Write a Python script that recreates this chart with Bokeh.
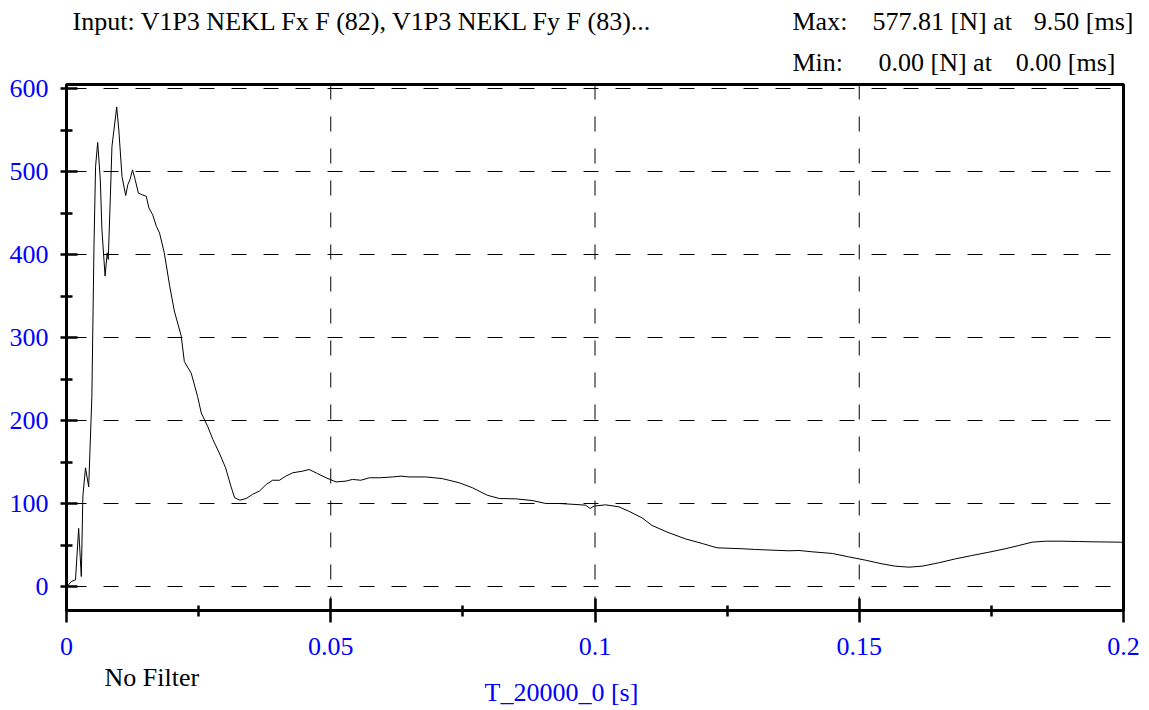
from bokeh.plotting import figure
from bokeh.models import Range1d, FixedTicker, Label, CustomJSTickFormatter, LinearAxis
from bokeh.embed import file_html
from bokeh.resources import INLINE

# ---- data (time in s, force in N) ----
time_s = [
    0.0, 0.00025, 0.0009, 0.0017, 0.0023, 0.0028, 0.0031, 0.0036, 0.0042, 0.0048,
    0.0052, 0.0055, 0.0059, 0.0064, 0.0067, 0.0073, 0.0077, 0.0079, 0.0083, 0.0086,
    0.0095, 0.0099, 0.0105, 0.0112, 0.0116, 0.0120, 0.0125, 0.0130, 0.0136, 0.0143,
    0.0151, 0.0156, 0.0163, 0.0170, 0.0176, 0.0185, 0.0195, 0.0204, 0.0217, 0.0223,
    0.0236, 0.0248, 0.0255, 0.0267, 0.0277, 0.0289, 0.0301, 0.0311, 0.0318, 0.0328,
    0.0340, 0.0352, 0.0365, 0.0378, 0.0390, 0.0403, 0.0415, 0.0428, 0.0447, 0.0459,
    0.0475, 0.0491, 0.0510, 0.0529, 0.0541, 0.0557, 0.0573, 0.0592, 0.0617, 0.0633,
    0.0648, 0.0680, 0.0711, 0.0743, 0.0768, 0.0796, 0.0819, 0.0850, 0.0881, 0.0907,
    0.0932, 0.0964, 0.0982, 0.0991, 0.0998, 0.1020, 0.1045, 0.1064, 0.1089, 0.1108,
    0.1140, 0.1171, 0.1203, 0.1231, 0.1278, 0.1304, 0.1335, 0.1367, 0.1386, 0.1411,
    0.1449, 0.1480, 0.1512, 0.1543, 0.1568, 0.1594, 0.1619, 0.1650, 0.1682, 0.1713,
    0.1745, 0.1776, 0.1802, 0.1827, 0.1852, 0.1883, 0.1915, 0.1946, 0.1994, 0.2,
]
force_N = [
    0, 1, 6, 8, 70, 12, 109, 143, 120, 229,
    410, 506, 535, 490, 430, 374, 402, 394, 470, 530,
    577.81, 550, 494, 471, 484, 490, 502, 490, 474, 472,
    470, 456, 448, 434, 426, 402, 363, 332, 302, 271,
    257, 229, 209, 193, 177, 161, 143, 121, 107, 104,
    106, 111, 115, 123, 128, 128, 133, 137, 139, 141,
    136, 131, 126, 127, 129, 128, 131, 131, 132, 133,
    132, 132, 130, 125, 119, 110, 106, 105.6, 103.6, 100,
    100, 98.8, 98, 94, 96.8, 98.4, 96, 90.7, 82.7, 73.5,
    64.7, 57.4, 51.8, 46.6, 45.5, 44.6, 43.8, 43.0, 43.4, 41.8,
    39.8, 35.7, 31.7, 27.3, 24.5, 23.3, 24.5, 28.5, 33.3, 37.3,
    41.3, 45.4, 49.4, 53.4, 54.6, 54.6, 54.2, 53.8, 53.4, 53.0,
]
assert len(time_s) == len(force_N)

x_major = [0, 0.05, 0.1, 0.15, 0.2]
x_minor = [0.025, 0.075, 0.125, 0.175]
y_major = [0, 100, 200, 300, 400, 500, 600]
y_minor = [50, 150, 250, 350, 450, 550]

title_text = "Input: V1P3 NEKL Fx F (82), V1P3 NEKL Fy F (83)..."
max_parts = ["Max:", "577.81 [N] at", "9.50 [ms]"]
min_parts = ["Min:", "0.00 [N] at", "0.00 [ms]"]
filter_text = "No Filter"
x_label = "T_20000_0 [s]"

FONT = "Liberation Serif"
BLUE = "#0000FF"
W, H = 1149, 710

# ---- layout (pixel geometry of the plot box on the canvas) ----
X0_PX, X1_PX = 66, 1123          # where t = 0 and t = 0.2 fall
Y0_PX, Y600_PX = 586, 88         # where F = 0 and F = 600 fall
BOX_TOP_PX, BOX_BOTTOM_PX = 84, 610
X_MIN, X_MAX = x_major[0], x_major[-1]
SX = (X1_PX - X0_PX) / (X_MAX - X_MIN)
SY = (Y0_PX - Y600_PX) / (y_major[-1] - y_major[0])


def px_x(px):
    return X_MIN + (px - X0_PX) / SX


def px_y(py):
    return (Y0_PX - py) / SY


Y_LOW, Y_HIGH = px_y(BOX_BOTTOM_PX), px_y(BOX_TOP_PX)

p = figure(width=W, height=H, output_backend="svg", toolbar_location=None,
           x_axis_type=None, y_axis_type=None,
           x_range=Range1d(px_x(0), px_x(W)), y_range=Range1d(px_y(H), px_y(0)),
           min_border_left=0, min_border_right=0, min_border_top=0, min_border_bottom=0,
           background_fill_color="white", border_fill_color="white")
p.outline_line_color = None

# dashed grid
gx = x_major[1:-1]
p.segment(x0=gx, y0=[Y_HIGH] * len(gx), x1=gx, y1=[Y_LOW] * len(gx),
          line_color="black", line_width=1, line_dash="15 17")
p.segment(x0=[X_MIN] * len(y_major), y0=y_major, x1=[X_MAX] * len(y_major), y1=y_major,
          line_color="black", line_width=1, line_dash="15 17", line_dash_offset=27)

# data
p.line(time_s, force_N, line_color="black", line_width=1)

# plot box (top / right borders)
p.quad(left=[X_MIN], right=[X_MAX], bottom=[Y_LOW], top=[Y_HIGH],
       fill_alpha=0, line_color="black", line_width=3)

xa = LinearAxis(fixed_location=Y_LOW, bounds=(X_MIN, X_MAX))
xa.ticker = FixedTicker(ticks=x_major, minor_ticks=x_minor)
xa.formatter = CustomJSTickFormatter(code="return tick.toString();")
xa.major_tick_in = 12
xa.major_tick_out = 12
xa.minor_tick_in = 5
xa.minor_tick_out = 6
xa.major_label_standoff = 15

ya = LinearAxis(fixed_location=X_MIN, bounds=(Y_LOW, Y_HIGH))
ya.ticker = FixedTicker(ticks=y_major, minor_ticks=y_minor)
ya.major_tick_in = 11
ya.major_tick_out = 6
ya.minor_tick_in = 6
ya.minor_tick_out = 6
ya.major_label_standoff = 12

for ax in (xa, ya):
    ax.axis_line_width = 3
    ax.axis_line_color = "black"
    ax.major_tick_line_width = 2.5
    ax.minor_tick_line_width = 2.5
    ax.major_tick_line_color = "black"
    ax.minor_tick_line_color = "black"
    ax.major_label_text_color = BLUE
    ax.major_label_text_font = FONT
    ax.major_label_text_font_size = "26px"

p.add_layout(xa, "below")
p.add_layout(ya, "left")


def add_label(text, px, py, align="left", color="black"):
    p.add_layout(Label(x=px_x(px), y=px_y(py), text=text, text_font=FONT,
                       text_font_size="26px", text_color=color,
                       text_align=align, text_baseline="middle"))


add_label(title_text, 72, 21)
add_label(max_parts[0], 792, 21)
add_label(max_parts[1], 872, 21)
add_label(max_parts[2], 1133, 21, align="right")
add_label(min_parts[0], 792, 62)
add_label(min_parts[1], 878, 62)
add_label(min_parts[2], 1115, 62, align="right")
add_label(filter_text, 104, 677)
add_label(x_label, 484, 692, color=BLUE)

open("out.html", "w").write(file_html(p, INLINE))
